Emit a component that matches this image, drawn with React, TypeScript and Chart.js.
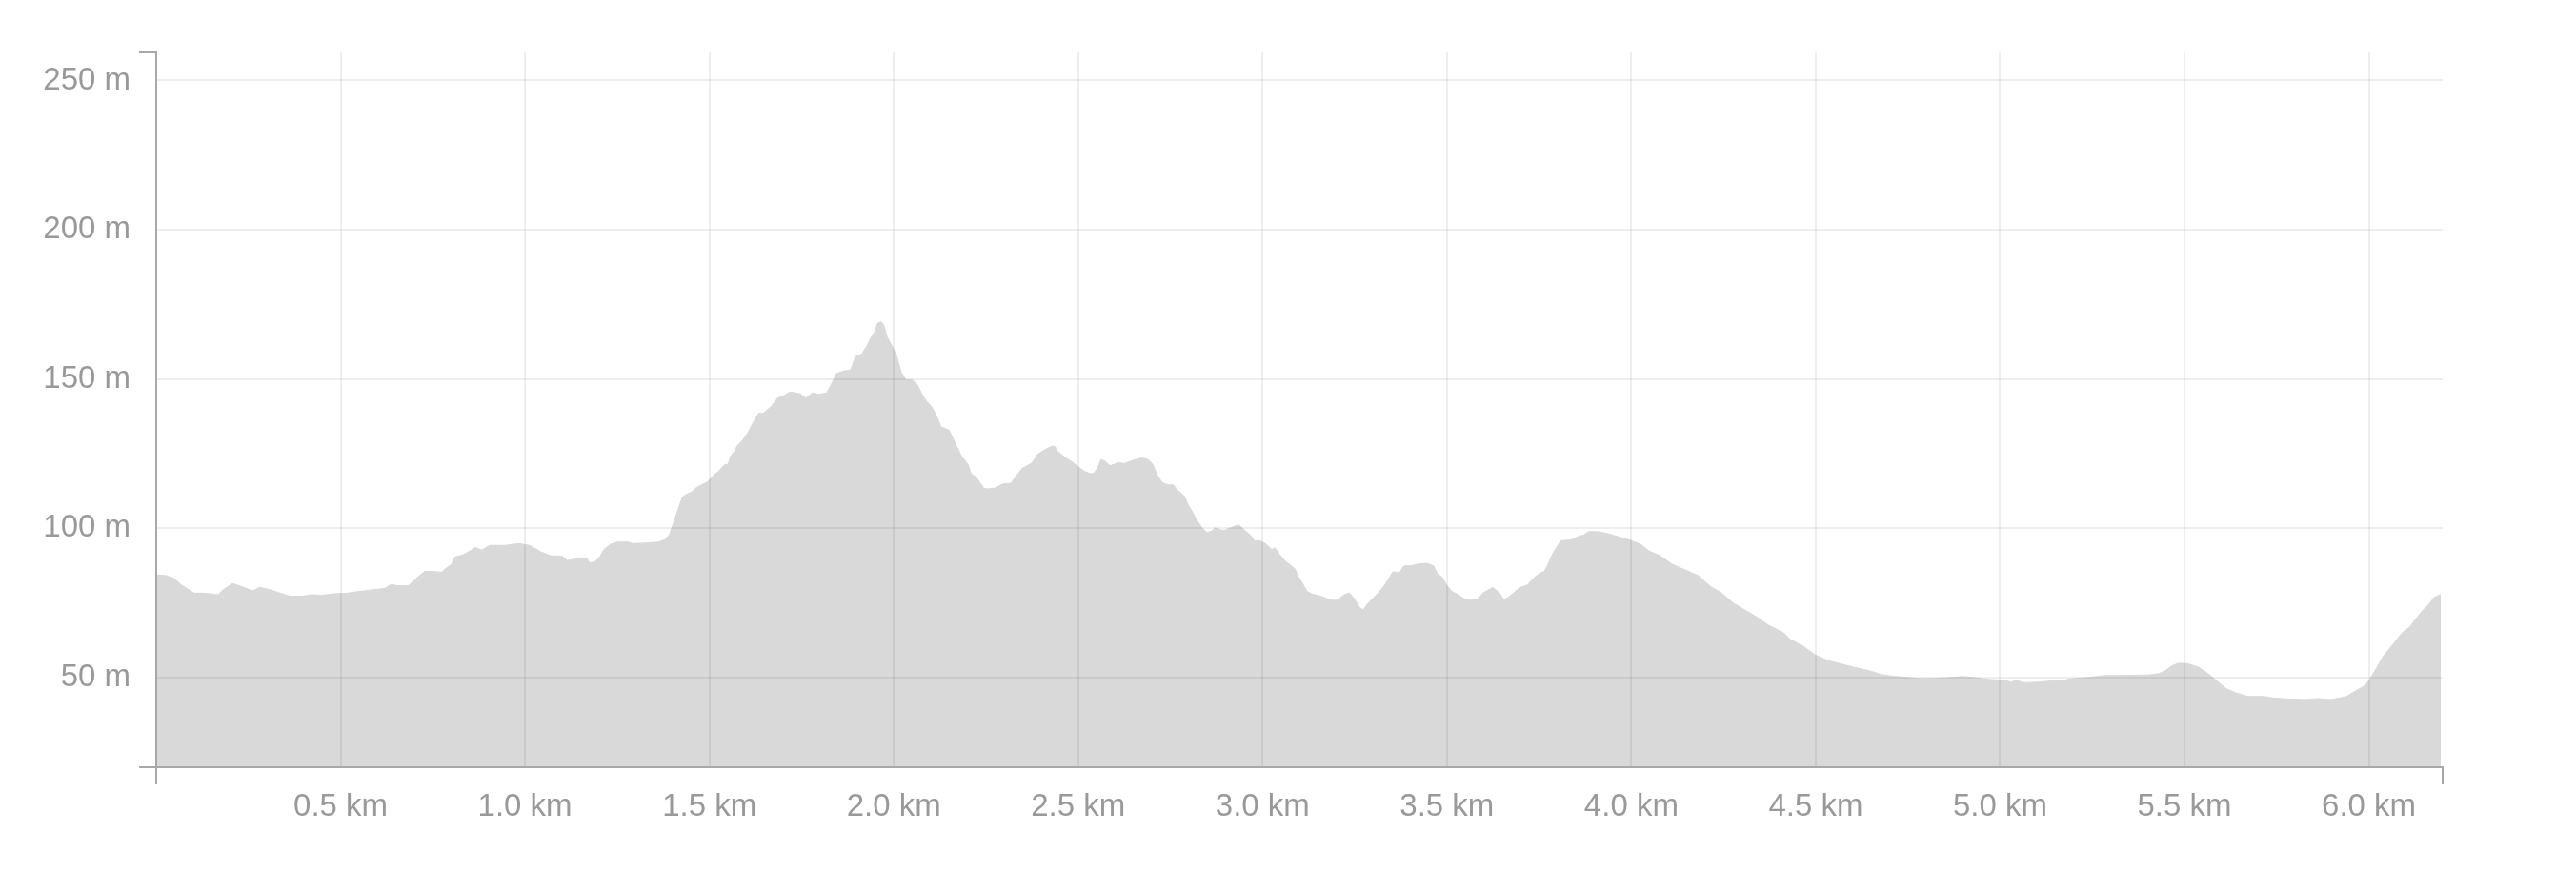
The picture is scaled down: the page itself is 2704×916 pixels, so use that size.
import { useEffect, useRef } from 'react';
import { Chart, registerables } from 'chart.js';

Chart.register(...registerables);

// Distance along the route (km)
const distanceKm = [
  0.000, 0.026, 0.047, 0.069, 0.103, 0.129, 0.155, 0.168, 0.181, 0.207, 0.232, 0.254, 0.263, 0.280, 0.310,
  0.336, 0.362, 0.396, 0.422, 0.448, 0.482, 0.517, 0.551, 0.585, 0.620, 0.637, 0.654, 0.684, 0.702, 0.728,
  0.758, 0.775, 0.784, 0.801, 0.809, 0.831, 0.852, 0.865, 0.883, 0.904, 0.947, 0.982, 1.012, 1.042, 1.068,
  1.102, 1.115, 1.149, 1.167, 1.175, 1.188, 1.201, 1.214, 1.231, 1.250,
  1.280, 1.293, 1.327, 1.362, 1.379, 1.392, 1.401, 1.414, 1.426, 1.435, 1.452, 1.465, 1.495, 1.508, 1.525,
  1.541, 1.551, 1.557, 1.568, 1.575, 1.590, 1.605, 1.616, 1.633, 1.646, 1.668, 1.685, 1.702, 1.719, 1.745,
  1.762, 1.779, 1.797, 1.818, 1.831, 1.844, 1.861, 1.883, 1.896, 1.913, 1.926, 1.939, 1.949, 1.956, 1.966,
  1.973, 1.982, 1.997, 2.008, 2.020, 2.033, 2.051, 2.064, 2.076, 2.089, 2.102, 2.115, 2.128, 2.150, 2.163,
  2.184, 2.201, 2.210, 2.223, 2.244, 2.253, 2.274, 2.296, 2.318, 2.330, 2.348, 2.374, 2.391, 2.412, 2.430,
  2.438, 2.442, 2.464, 2.481, 2.500,
  2.517, 2.534, 2.543, 2.553, 2.562, 2.573, 2.586, 2.599, 2.608, 2.625, 2.642, 2.672, 2.689, 2.702, 2.715,
  2.728, 2.745, 2.758, 2.771, 2.788, 2.797, 2.810, 2.823, 2.836, 2.849, 2.862, 2.872, 2.883, 2.896, 2.913,
  2.935, 2.952, 2.969, 2.978, 2.991, 3.008, 3.025, 3.034, 3.047, 3.064,
  3.077, 3.089, 3.095, 3.106, 3.121, 3.135, 3.158, 3.187, 3.204, 3.221, 3.236, 3.250, 3.262, 3.273, 3.285,
  3.296, 3.314, 3.331, 3.342, 3.354, 3.371, 3.383, 3.406, 3.423, 3.446, 3.464, 3.475, 3.487, 3.498, 3.513,
  3.527, 3.550, 3.567, 3.585, 3.598, 3.608, 3.625, 3.642, 3.654, 3.665, 3.677, 3.698, 3.717, 3.735, 3.752,
  3.763, 3.772, 3.785, 3.798, 3.809, 3.836, 3.854, 3.871, 3.884, 3.909, 3.931, 3.957, 3.983, 4.000, 4.026,
  4.047, 4.077, 4.112, 4.146, 4.181, 4.215, 4.245, 4.275, 4.310, 4.344, 4.370, 4.413, 4.430, 4.465, 4.499,
  4.534, 4.568, 4.603, 4.646, 4.680, 4.715, 4.749, 4.783, 4.826, 4.870, 4.900, 4.938, 4.973, 5.000,
  5.018, 5.030, 5.043, 5.065, 5.104, 5.138, 5.173, 5.190, 5.241, 5.284, 5.345, 5.405, 5.431, 5.448, 5.465,
  5.482, 5.500, 5.517, 5.538, 5.560, 5.586, 5.612, 5.637, 5.672, 5.715, 5.741, 5.775, 5.827, 5.861, 5.896,
  5.922, 5.939, 5.965, 5.991, 6.003, 6.021, 6.038, 6.059, 6.090, 6.111, 6.128, 6.146, 6.163, 6.176, 6.193,
  6.195,
];

// Elevation (m)
const elevationM = [
  84.4, 84.2, 83.3, 81.0, 78.3, 78.3, 78.0, 77.8, 79.4, 81.5, 80.5, 79.4, 79.1, 80.3, 79.4,
  78.3, 77.3, 77.3, 77.8, 77.6, 78.1, 78.3, 78.9, 79.4, 79.9, 81.2, 80.8, 80.8, 82.9, 85.6,
  85.5, 85.3, 86.5, 87.9, 90.4, 91.1, 92.5, 93.6, 92.7, 94.3, 94.3, 94.9, 94.3, 92.2, 90.9,
  90.6, 89.2, 90.1, 90.1, 88.5, 88.7, 90.1, 92.9, 94.6, 95.4,
  95.4, 94.9, 95.1, 95.4, 96.2, 98.0, 101.2, 106.0, 110.3, 111.2, 112.2, 113.7, 115.6, 117.4, 119.1,
  121.3, 121.5, 124.1, 125.7, 127.6, 129.5, 132.1, 134.8, 138.5, 138.5, 140.9, 143.6, 144.5, 145.7, 145.1,
  143.6, 145.4, 144.9, 145.4, 148.3, 151.8, 152.6, 153.1, 157.5, 158.4, 160.9, 164.1, 165.9, 168.7, 169.2,
  168.1, 164.1, 160.7, 157.7, 152.4, 149.7, 149.7, 148.1, 145.1, 142.5, 140.9, 138.0, 134.0, 132.9, 129.5,
  124.1, 121.5, 118.3, 117.2, 113.5, 113.2, 113.5, 114.9, 115.1, 117.2, 120.1, 121.8, 124.9, 126.5, 127.6,
  127.3, 126.0, 123.8, 122.5, 120.7,
  119.1, 118.3, 118.5, 120.4, 123.1, 122.5, 121.0, 121.5, 122.0, 121.7, 122.5, 123.6, 123.1, 121.5, 117.8,
  115.3, 114.6, 114.6, 112.6, 110.8, 108.2, 105.5, 102.5, 100.2, 98.6, 99.1, 100.2, 99.6, 99.3, 100.2,
  101.2, 99.3, 97.5, 95.7, 95.9, 94.9, 92.9, 93.5, 91.1, 88.7,
  87.6, 86.3, 84.2, 82.1, 78.9, 78.0, 77.3, 75.9, 75.9, 77.8, 78.4, 76.2, 73.6, 72.7, 74.8,
  76.2, 78.4, 81.0, 83.1, 85.5, 85.1, 87.4, 87.6, 88.1, 88.3, 87.4, 84.7, 83.7, 81.2, 78.9,
  78.0, 76.2, 75.9, 76.5, 78.4, 79.1, 80.2, 78.4, 76.2, 76.8, 78.0, 80.2, 81.0, 83.3, 85.0,
  85.5, 87.4, 91.1, 93.8, 95.9, 96.1, 97.2, 97.8, 98.9, 98.9, 98.4, 97.5, 96.5, 95.9, 94.6,
  92.5, 90.9, 87.9, 86.1, 84.2, 80.5, 78.3, 75.1, 72.5, 70.0, 67.7, 65.0, 62.9, 60.6, 57.6,
  55.7, 54.6, 53.5, 52.3, 51.0, 50.4, 50.1, 49.7, 49.8, 50.1, 50.4, 49.9, 49.4, 49.2,
  48.9, 48.5, 49.1, 48.3, 48.5, 48.9, 49.1, 49.6, 50.1, 50.7, 50.8, 50.9, 51.4, 52.3, 53.9,
  54.8, 54.8, 54.4, 53.5, 51.7, 49.1, 46.4, 45.0, 43.7, 43.7, 43.2, 42.9, 42.7, 43.0, 42.7,
  43.2, 43.7, 45.6, 47.5, 49.6, 53.3, 57.0, 60.2, 65.0, 67.0, 69.8, 72.5, 74.6, 76.8, 77.8,
  78.0,
];

// Axis ranges and tick steps
const xRangeKm = [0, 6.2];
const yRangeM = [20, 259.4];
const xTickStepKm = 0.5;
const yTickStepM = 50;

const AXIS_COLOR = '#a8a8a8';
const GRID_COLOR = 'rgba(0,0,0,0.065)';
const LABEL_COLOR = '#999999';
const FILL_COLOR = '#d9d9d9';
const FONT_FAMILY = '"Liberation Sans", Arial, sans-serif';

const endTicks = {
  id: 'endTicks',
  afterDraw(chart: any) {
    const { ctx, chartArea } = chart;
    const { left, right, top, bottom } = chartArea;
    const len = 18;
    ctx.save();
    ctx.strokeStyle = AXIS_COLOR;
    ctx.lineWidth = 2;
    ctx.beginPath();
    ctx.moveTo(left - len, top);
    ctx.lineTo(left, top);
    ctx.moveTo(left - len, bottom);
    ctx.lineTo(left, bottom);
    ctx.moveTo(left, bottom);
    ctx.lineTo(left, bottom + len);
    ctx.moveTo(right, bottom);
    ctx.lineTo(right, bottom + len);
    ctx.stroke();
    ctx.restore();
  },
};

export default function App() {
  const canvasRef = useRef<HTMLCanvasElement | null>(null);

  useEffect(() => {
    if (!canvasRef.current) return;
    const points = distanceKm.map((d, i) => ({ x: d, y: elevationM[i] }));
    const chart = new Chart(canvasRef.current, {
      type: 'line',
      data: {
        datasets: [
          {
            data: points,
            fill: 'start',
            backgroundColor: FILL_COLOR,
            borderColor: FILL_COLOR,
            borderWidth: 1,
            pointRadius: 0,
            tension: 0,
          },
        ],
      },
      options: {
        animation: false,
        responsive: false,
        devicePixelRatio: 1,
        layout: { padding: { top: 55, right: 140, left: 0, bottom: 0 } },
        plugins: { legend: { display: false }, tooltip: { enabled: false } },
        scales: {
          x: {
            type: 'linear',
            min: xRangeKm[0],
            max: xRangeKm[1],
            afterFit: (s: any) => {
              s.height = 111;
            },
            grid: { color: GRID_COLOR, lineWidth: 2, drawTicks: false, z: 1 },
            border: { color: AXIS_COLOR, width: 2, z: 2 },
            ticks: {
              stepSize: xTickStepKm,
              includeBounds: false,
              autoSkip: false,
              maxRotation: 0,
              padding: 22,
              color: LABEL_COLOR,
              font: { family: FONT_FAMILY, size: 33 },
              callback: (v: any) => (Number(v) === 0 ? '' : Number(v).toFixed(1) + ' km'),
            },
          },
          y: {
            type: 'linear',
            min: yRangeM[0],
            max: yRangeM[1],
            afterFit: (s: any) => {
              s.width = 164;
            },
            grid: { color: GRID_COLOR, lineWidth: 2, drawTicks: false, z: 1 },
            border: { color: AXIS_COLOR, width: 2, z: 2 },
            ticks: {
              stepSize: yTickStepM,
              includeBounds: false,
              padding: 27,
              color: LABEL_COLOR,
              font: { family: FONT_FAMILY, size: 33 },
              callback: (v: any) => `${v} m`,
            },
          },
        },
      },
      plugins: [endTicks],
    });
    return () => chart.destroy();
  }, []);

  return (
    <div style={{ position: 'fixed', left: 0, top: 0, width: 2704, height: 916, background: '#fff' }}>
      <canvas ref={canvasRef} width={2704} height={916} style={{ display: 'block' }} />
    </div>
  );
}
